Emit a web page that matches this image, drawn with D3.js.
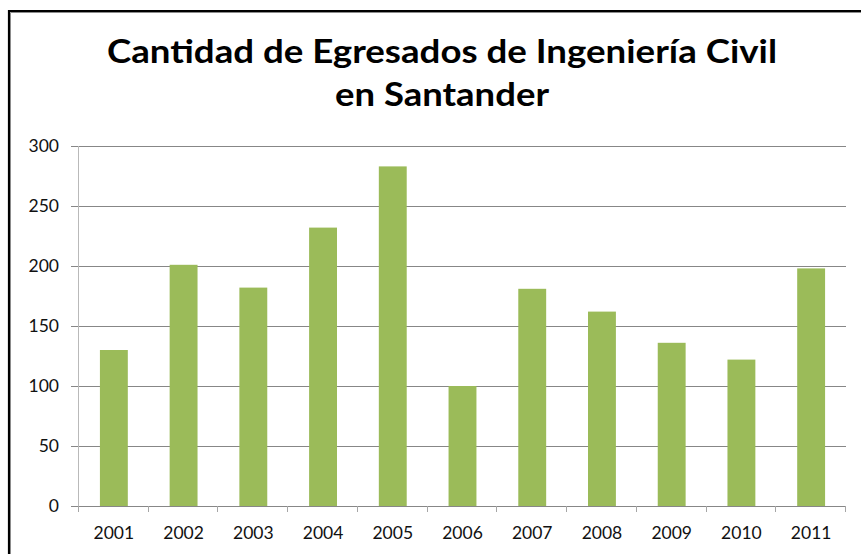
<!DOCTYPE html>
<html>
<head>
<meta charset="utf-8">
<script src="https://cdn.jsdelivr.net/npm/d3@7/dist/d3.min.js"></script>
<style>
  html, body { margin: 0; padding: 0; background: #fff; }
  svg { display: block; }
  text { font-family: Lato, "Open Sans", sans-serif; }
</style>
</head>
<body>
<svg id="chart" width="861" height="554"></svg>
<script>
// chart data
const years = ['2001', '2002', '2003', '2004', '2005', '2006', '2007', '2008', '2009', '2010', '2011'];
const graduates = [130, 201, 182, 232, 283, 100, 181, 162, 136, 122, 198];
const yTicks = [0, 50, 100, 150, 200, 250, 300];
const titleLines = ['Cantidad de Egresados de Ingeniería Civil', 'en Santander'];

const svg = d3.select('#chart');
const W = 861, H = 554;
const plot = { left: 79, right: 846, top: 146, bottom: 506 };

// frame: black edge with grey inner shadow, only top and left show
svg.append('path').attr('d', `M9 ${H} V11 H${W}`)
  .attr('fill', 'none').attr('stroke', '#000').attr('stroke-width', 2.2);
svg.append('path').attr('d', `M10.5 ${H} V12.5 H${W}`)
  .attr('fill', 'none').attr('stroke', '#8c8c8c').attr('stroke-width', 1);

// title
const title = svg.append('g').attr('class', 'title');
title.append('text')
  .attr('x', 442).attr('y', 63)
  .attr('text-anchor', 'middle')
  .attr('font-size', 32).attr('font-weight', 'bold')
  .attr('textLength', 670).attr('lengthAdjust', 'spacingAndGlyphs')
  .text(titleLines[0]);
title.append('text')
  .attr('x', 442).attr('y', 106)
  .attr('text-anchor', 'middle')
  .attr('font-size', 32).attr('font-weight', 'bold')
  .attr('textLength', 214).attr('lengthAdjust', 'spacingAndGlyphs')
  .text(titleLines[1]);

const x = d3.scaleBand().domain(years).range([plot.left, plot.right]).paddingInner(0.6).paddingOuter(0.3);
const xEdge = d3.scaleBand().domain(years).range([plot.left, plot.right]);
const y = d3.scaleLinear().domain([0, 300]).range([plot.bottom, plot.top]);

// gridlines
svg.append('g')
  .selectAll('line').data(yTicks.filter(d => d > 0)).join('line')
  .attr('x1', plot.left - 8).attr('x2', plot.right)
  .attr('y1', d => Math.round(y(d)) + 0.5).attr('y2', d => Math.round(y(d)) + 0.5)
  .attr('stroke', '#878787').attr('stroke-width', 1);

// vertical axis line
svg.append('line')
  .attr('x1', plot.left - 0.5).attr('x2', plot.left - 0.5)
  .attr('y1', plot.top).attr('y2', plot.bottom)
  .attr('stroke', '#b9b9b9');

// bars
svg.append('g')
  .selectAll('rect').data(years).join('rect')
  .attr('x', (d, i) => x(d))
  .attr('width', x.bandwidth())
  .attr('y', (d, i) => y(graduates[i]))
  .attr('height', (d, i) => plot.bottom - y(graduates[i]))
  .attr('fill', '#9bbb59');

// x axis baseline + ticks between categories
const bottom = svg.append('g');
bottom.append('line')
  .attr('x1', plot.left - 8).attr('x2', plot.right)
  .attr('y1', plot.bottom + 0.5).attr('y2', plot.bottom + 0.5)
  .attr('stroke', '#878787');
const edges = years.map(d => xEdge(d)).concat([plot.right]);
bottom.selectAll('line.tk').data(edges).join('line')
  .attr('class', 'tk')
  .attr('x1', d => Math.round(d) - 0.5).attr('x2', d => Math.round(d) - 0.5)
  .attr('y1', plot.bottom).attr('y2', plot.bottom + 6)
  .attr('stroke', '#a6a6a6');

// x labels
svg.append('g')
  .selectAll('text').data(years).join('text')
  .attr('x', d => xEdge(d) + xEdge.bandwidth() / 2)
  .attr('y', 539)
  .attr('text-anchor', 'middle')
  .attr('font-size', 17.5).attr('fill', '#111')
  .text(d => d);

// y labels
svg.append('g')
  .selectAll('text').data(yTicks).join('text')
  .attr('x', 59)
  .attr('y', d => y(d))
  .attr('dy', '0.36em')
  .attr('text-anchor', 'end')
  .attr('font-size', 17.5).attr('fill', '#111')
  .text(d => d);
</script>
</body>
</html>
